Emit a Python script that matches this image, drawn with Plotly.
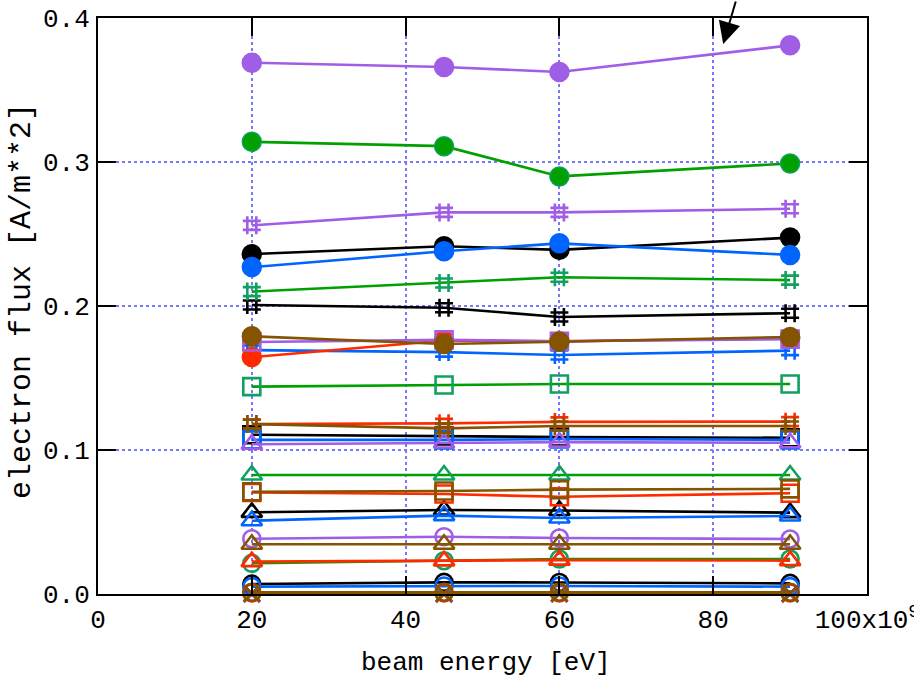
import plotly.graph_objects as go

# ---- data ----
beam_energy = [20, 45, 60, 90]

x_tick_vals = [0, 20, 40, 60, 80, 100]
x_tick_text = ["0", "20", "40", "60", "80", "100x10<sup>9</sup>"]
y_tick_vals = [0.0, 0.1, 0.2, 0.3, 0.4]
y_tick_text = ["0.0", "0.1", "0.2", "0.3", "0.4"]

black_circle = [0.236, 0.2415, 0.239, 0.2475]
black_hash = [0.2007, 0.1988, 0.1924, 0.1950]
black_square = [0.1106, 0.1097, 0.1090, 0.1085]
black_triangle = [0.0567, 0.0583, 0.0580, 0.0565]
black_ocircle = [0.0069, 0.0081, 0.0080, 0.0074]
black_x = [0.0002, 0.0002, 0.0002, 0.0002]

green_circle = [0.314, 0.311, 0.290, 0.299]
green_hash = [0.210, 0.216, 0.220, 0.218]
green_square = [0.1440, 0.1451, 0.1458, 0.1458]
green_triangle = [0.0826, 0.0826, 0.0826, 0.0826]
green_ocircle = [0.0213, 0.0231, 0.0243, 0.0243]
green_x = [0.0002, 0.0002, 0.0002, 0.0002]

blue_circle = [0.227, 0.238, 0.2435, 0.2355]
blue_hash = [0.1694, 0.1680, 0.1660, 0.1690]
blue_square = [0.1070, 0.1070, 0.1076, 0.1070]
blue_triangle = [0.0509, 0.0544, 0.0528, 0.0542]
blue_ocircle = [0.0051, 0.0056, 0.0056, 0.0051]
blue_x = [0.0002, 0.0002, 0.0002, 0.0002]

red_circle = [0.1645, 0.1760, 0.1755, 0.1775]
red_hash = [0.1180, 0.1185, 0.1195, 0.1197]
red_square = [0.0705, 0.0694, 0.0675, 0.0700]
red_triangle = [0.0225, 0.0230, 0.0235, 0.0232]
red_ocircle = [0.0008, 0.0008, 0.0008, 0.0008]
red_x = [0.0, 0.0, 0.0, 0.0]

purple_circle = [0.369, 0.366, 0.3625, 0.381]
purple_hash = [0.256, 0.265, 0.265, 0.2675]
purple_square = [0.1750, 0.1765, 0.1755, 0.1770]
purple_triangle = [0.1040, 0.1049, 0.1055, 0.1050]
purple_ocircle = [0.0384, 0.0398, 0.0389, 0.0382]
purple_x = [0.0002, 0.0002, 0.0002, 0.0002]

brown_circle = [0.1790, 0.1736, 0.1752, 0.1785]
brown_hash = [0.1180, 0.1150, 0.1167, 0.1167]
brown_square = [0.0710, 0.0715, 0.0725, 0.0730]
brown_triangle = [0.0345, 0.0345, 0.0345, 0.0345]
brown_ocircle = [0.0012, 0.0012, 0.0012, 0.0012]
brown_x = [0.0004, 0.0004, 0.0004, 0.0004]

x_title = "beam energy [eV]"
y_title = "electron flux [A/m**2]"

# ---- styles ----
colors = {
    "black": ("#000000", "#000000"),
    "green": ("#00a000", "#10a060"),
    "blue": ("#0064ff", "#0064ff"),
    "red": ("#ff2a00", "#ff2a00"),
    "purple": ("#a05de6", "#a05de6"),
    "brown": ("#845400", "#845400"),
}

groups = [
    ("black", [black_circle, black_hash, black_square, black_triangle, black_ocircle, black_x]),
    ("green", [green_circle, green_hash, green_square, green_triangle, green_ocircle, green_x]),
    ("blue", [blue_circle, blue_hash, blue_square, blue_triangle, blue_ocircle, blue_x]),
    ("red", [red_circle, red_hash, red_square, red_triangle, red_ocircle, red_x]),
    ("purple", [purple_circle, purple_hash, purple_square, purple_triangle, purple_ocircle, purple_x]),
    ("brown", [brown_circle, brown_hash, brown_square, brown_triangle, brown_ocircle, brown_x]),
]

symbols = ["circle", "hash-open", "square-open", "triangle-up-open", "circle-open", "x-thin-open"]
sizes = [19, 18, 17, 18, 17, 16]

fig = go.Figure()
for cname, series in groups:
    lc, mc = colors[cname]
    for vals, sym, sz in zip(series, symbols, sizes):
        if sym == "circle":
            marker = dict(symbol=sym, size=sz, color=lc, line=dict(color=mc, width=1.5))
        else:
            marker = dict(symbol=sym, size=sz, color=mc, line=dict(color=mc, width=2.6))
        fig.add_trace(go.Scatter(
            x=beam_energy, y=vals, mode="lines+markers",
            line=dict(color=lc, width=2.6), marker=marker,
            cliponaxis=False, showlegend=False, hoverinfo="skip",
        ))

font_family = "Liberation Mono, Courier New, monospace"

fig.add_annotation(
    x=81.3, y=0.382, xref="x", yref="y", text="", showarrow=True,
    ax=13, ay=-55, arrowhead=2, arrowsize=2.2, arrowwidth=2, arrowcolor="#000000",
)
fig.add_annotation(
    x=0.5046, y=-0.1198, xref="paper", yref="paper", text=x_title, showarrow=False,
    xanchor="center", yanchor="middle",
    font=dict(family=font_family, size=26, color="#000000"),
)
fig.add_annotation(
    x=-0.0988, y=0.5087, xref="paper", yref="paper", text=y_title, showarrow=False,
    xanchor="center", yanchor="middle", textangle=-90,
    font=dict(family=font_family, size=30, color="#000000"),
)

axis_common = dict(
    showline=True, linecolor="#000000", linewidth=2, mirror="ticks",
    ticks="inside", ticklen=18, tickwidth=2, tickcolor="#000000",
    showgrid=True, gridcolor="#7878ff", gridwidth=2, griddash="dot",
    zeroline=False, automargin=False, ticklabeloverflow="allow",
    tickfont=dict(family=font_family, size=26, color="#000000"),
)

fig.update_xaxes(
    range=[0, 100], tickmode="array", tickvals=x_tick_vals, ticktext=x_tick_text,
    ticklabelstandoff=1, **axis_common,
)
fig.update_yaxes(
    range=[0, 0.4], tickmode="array", tickvals=y_tick_vals, ticktext=y_tick_text,
    ticklabelstandoff=1, **axis_common,
)

fig.update_layout(
    width=914, height=681,
    margin=dict(l=98, r=47, t=18, b=87),
    paper_bgcolor="#ffffff", plot_bgcolor="#ffffff",
    showlegend=False,
)

fig.write_html("out.html")
